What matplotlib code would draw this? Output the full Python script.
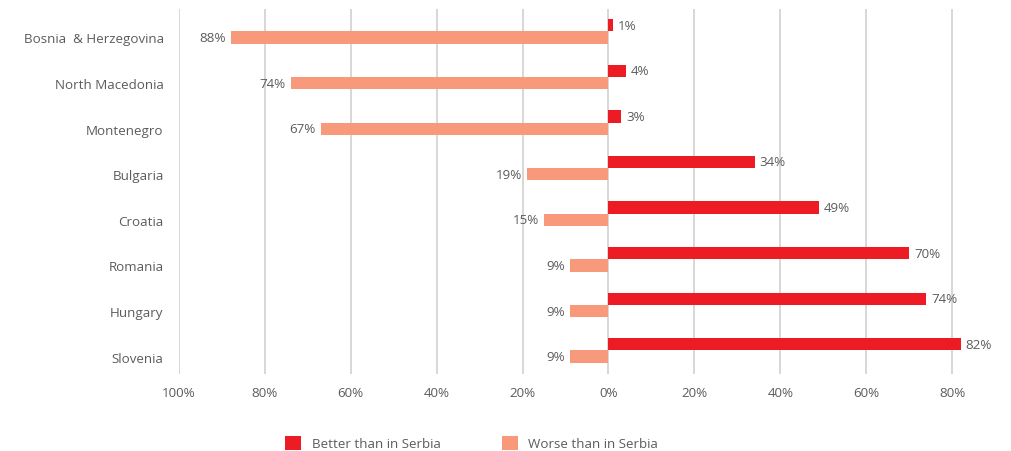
import matplotlib
matplotlib.use("Agg")
import matplotlib.pyplot as plt
import numpy as np

plt.rcParams['font.family'] = ['Open Sans', 'DejaVu Sans']
plt.rcParams['font.weight'] = 500

countries = ["Bosnia  & Herzegovina", "North Macedonia", "Montenegro", "Bulgaria",
             "Croatia", "Romania", "Hungary", "Slovenia"]
better = [1, 4, 3, 34, 49, 70, 74, 82]
worse = [88, 74, 67, 19, 15, 9, 9, 9]
ticks = [-100, -80, -60, -40, -20, 0, 20, 40, 60, 80]

red = "#ED1C24"
salmon = "#F7997A"
txt = "#5c5c5c"
fs = 9.6

fig = plt.figure(figsize=(10.12, 4.52), dpi=100)
ax = fig.add_axes([0.1769, 0.1704, 0.8063, 0.8075])

y = np.arange(len(countries))
h = 0.27
ax.barh(y - h, better, height=h, color=red, label="Better than in Serbia", zorder=3)
ax.barh(y, [-w for w in worse], height=h, color=salmon, label="Worse than in Serbia", zorder=3)

for yi, b in zip(y, better):
    ax.text(b + 1.2, yi - h, f"{b}%", va="center", ha="left", fontsize=fs, color=txt)
for yi, w in zip(y, worse):
    ax.text(-w - 1.2, yi, f"{w}%", va="center", ha="right", fontsize=fs, color=txt)

ax.set_xlim(-100, 90)
ax.set_ylim(7.38, -0.625)
ax.set_xticks(ticks)
ax.set_xticklabels([f"{abs(t)}%" for t in ticks], fontsize=fs, color=txt)
ax.set_yticks(y)
ax.set_yticklabels(countries, fontsize=fs, color=txt)
ax.tick_params(axis="both", length=0)
ax.tick_params(axis="x", pad=9)
ax.tick_params(axis="y", pad=11)
ax.grid(axis="x", color="#d4d4d4", linewidth=1.3, zorder=0)
for s in ax.spines.values():
    s.set_visible(False)

fig.legend(loc="center", bbox_to_anchor=(0.466, 0.017), ncol=2, frameon=False,
           fontsize=fs, labelcolor=txt, handlelength=1.2, handleheight=1.2,
           columnspacing=4.6, handletextpad=0.8)

fig.savefig("out.png", dpi=100)
